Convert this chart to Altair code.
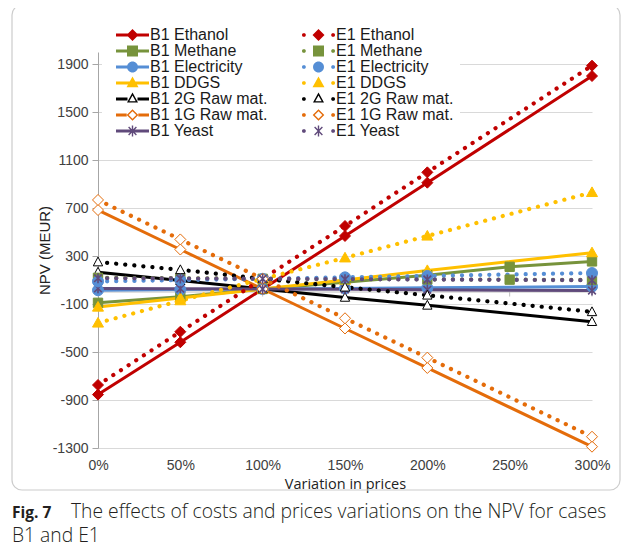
import math
import altair as alt
import pandas as pd

# ---------------- data ----------------
X_MAIN = [0, 50, 100, 150, 200, 300]
X_METHANE = [0, 50, 100, 150, 200, 250, 300]
X_TICKS = [0, 50, 100, 150, 200, 250, 300]
Y_TICKS = [-1300, -900, -500, -100, 300, 700, 1100, 1500, 1900]

B1_ETHANOL = [-855, -419, 25, 467, 911, 1800]
B1_METHANE = [-90, -40, 25, 82, 140, 210, 255]
B1_ELECTRICITY = [15, 20, 25, 30, 35, 45]
B1_DDGS = [-125, -50, 25, 100, 180, 328]
B1_RAW2G = [165, 95, 25, -45, -111, -247]
B1_RAW1G = [683, 354, 25, -304, -633, -1289]
B1_YEAST = [30, 28, 25, 22, 18, 12]

E1_ETHANOL = [-775, -331, 110, 550, 997, 1886]
E1_METHANE = [118, 115, 110, 108, 105, 103, 100]
E1_ELECTRICITY = [88, 99, 110, 122, 134, 158]
E1_DDGS = [-258, -72, 110, 285, 467, 830]
E1_RAW2G = [250, 185, 110, 40, -27, -165]
E1_RAW1G = [767, 438, 110, -219, -547, -1206]
E1_YEAST = [115, 113, 110, 107, 104, 98]

SERIES = ["B1 Ethanol", "B1 Methane", "B1 Electricity", "B1 DDGS",
          "B1 2G Raw mat.", "B1 1G Raw mat.", "B1 Yeast",
          "E1 Ethanol", "E1 Methane", "E1 Electricity", "E1 DDGS",
          "E1 2G Raw mat.", "E1 1G Raw mat.", "E1 Yeast"]
PRODUCTS = ["ethanol", "methane", "electricity", "ddgs", "raw2g", "raw1g", "yeast"]
VALUES = [B1_ETHANOL, B1_METHANE, B1_ELECTRICITY, B1_DDGS, B1_RAW2G, B1_RAW1G, B1_YEAST,
          E1_ETHANOL, E1_METHANE, E1_ELECTRICITY, E1_DDGS, E1_RAW2G, E1_RAW1G, E1_YEAST]

CAPTION_BOLD = "Fig. 7"
CAPTION_LINE1 = "The effects of costs and prices variations on the NPV for cases"
CAPTION_LINE2 = "B1 and E1"

# ---------------- styles ----------------
COLORS = {"ethanol": "#C00000", "methane": "#77933C", "electricity": "#558ED5",
          "ddgs": "#FFC000", "raw2g": "#000000", "raw1g": "#E46C0A", "yeast": "#604A7B"}
MARK_PATH = {
    "ethanol": "M0,-1L1,0L0,1L-1,0Z",
    "methane": "M-0.85,-0.85L0.85,-0.85L0.85,0.85L-0.85,0.85Z",
    "electricity": "circle",
    "ddgs": "M0,-1L1,0.75L-1,0.75Z",
    "raw2g": "M0,-0.9L0.85,0.7L-0.85,0.7Z",
    "raw1g": "M0,-1L1,0L0,1L-1,0Z",
    "yeast": "M0,-0.9L0,0.9M-0.7,-0.7L0.7,0.7M-0.7,0.7L0.7,-0.7",
}
OPEN = {"raw2g", "raw1g"}

rows = []
for name, vals in zip(SERIES, VALUES):
    case = name[:2]
    prod = PRODUCTS[SERIES.index(name) % 7]
    xs = X_METHANE if prod == "methane" else X_MAIN
    col = COLORS[prod]
    if prod in OPEN:
        fill = "white"
    elif prod == "yeast":
        fill = "transparent"
    else:
        fill = col
    for x, y in zip(xs, vals):
        rows.append(dict(series=name, case=case, x=x, y=y, color=col, fill=fill,
                         stroke=col, shape=MARK_PATH[prod],
                         sw=1.6 if prod == "yeast" else 1.0))
df = pd.DataFrame(rows)


# ---------------- legend symbols (px units) ----------------
def ppath(pts):
    return "M" + "L".join(f"{x:.2f},{y:.2f}" for x, y in pts) + "Z"


def circ(cx, cy, r, n=18):
    return [(cx + r * math.cos(2 * math.pi * k / n), cy + r * math.sin(2 * math.pi * k / n)) for k in range(n)]


def dia(cx, cy, r):
    return [(cx, cy - r), (cx + r, cy), (cx, cy + r), (cx - r, cy)]


def sq(cx, cy, r):
    return [(cx - r, cy - r), (cx + r, cy - r), (cx + r, cy + r), (cx - r, cy + r)]


def tri(cx, cy, r):
    return [(cx, cy - r), (cx + r, cy + 0.8 * r), (cx - r, cy + 0.8 * r)]


def bar(cx, cy, L, w, ang):
    d = (math.cos(ang), math.sin(ang))
    n = (-math.sin(ang), math.cos(ang))
    h, k = L / 2, w / 2
    return [(cx - d[0] * h - n[0] * k, cy - d[1] * h - n[1] * k),
            (cx + d[0] * h - n[0] * k, cy + d[1] * h - n[1] * k),
            (cx + d[0] * h + n[0] * k, cy + d[1] * h + n[1] * k),
            (cx - d[0] * h + n[0] * k, cy - d[1] * h + n[1] * k)]


def rect(x0, y0, x1, y1):
    return [(x0, y0), (x1, y0), (x1, y1), (x0, y1)]


W = 33.0
C = W / 2


def legend_symbol(prod, dotted):
    parts = []
    gap = 0
    if prod == "ethanol":
        mk = ppath(dia(C, 0, 6))
    elif prod == "methane":
        mk = ppath(sq(C, 0, 5.5))
    elif prod == "electricity":
        mk = ppath(circ(C, 0, 5.5))
    elif prod == "ddgs":
        mk = ppath(tri(C, -0.5, 6))
    elif prod == "raw2g":
        mk = ppath(tri(C, -1, 5.5)) + ppath(list(reversed(tri(C, -0.2, 3.2))))
        gap = 5
    elif prod == "raw1g":
        mk = ppath(dia(C, 0, 5.8)) + ppath(list(reversed(dia(C, 0, 3.8))))
        gap = 5.8
    else:
        mk = "".join(ppath(bar(C, 0, 11, 1.4, a)) for a in (math.pi / 2, math.pi / 4, 3 * math.pi / 4))
    if dotted:
        parts.append(ppath(circ(1.9, 0, 1.9)))
        parts.append(ppath(circ(W - 1.9, 0, 1.9)))
    else:
        if gap:
            parts.append(ppath(rect(0, -1.5, C - gap, 1.5)))
            parts.append(ppath(rect(C + gap, -1.5, W, 1.5)))
        else:
            parts.append(ppath(rect(0, -1.5, W, 1.5)))
    parts.append(mk)
    return "".join(parts)


LEG_PATHS = [legend_symbol(PRODUCTS[i % 7], i >= 7) for i in range(len(SERIES))]
LEG_COLORS = [COLORS[PRODUCTS[i % 7]] for i in range(len(SERIES))]

# ---------------- encodings ----------------
LABEL_FONT = "Liberation Sans"
x_enc = alt.X("x:Q", scale=alt.Scale(domain=[0, 300], nice=False, zero=False),
              axis=alt.Axis(values=X_TICKS, labelExpr="datum.value + '%'", grid=False,
                            domain=False, ticks=False, tickSize=0, labelPadding=10,
                            labelFlush=False,
                            labelFont=LABEL_FONT, labelFontSize=14, labelColor="#404040",
                            title="Variation in prices", titleFont="Open Sans",
                            titleFontSize=14.5, titleFontWeight="normal", titleColor="#222222",
                            titleY=29))
y_enc = alt.Y("y:Q", scale=alt.Scale(domain=[-1300, 2000], nice=False, zero=False),
              axis=alt.Axis(values=Y_TICKS, labelExpr="'' + datum.value", grid=True,
                            gridColor="#d9d9d9", gridWidth=1, domainColor="#a6a6a6",
                            tickColor="#a6a6a6", tickSize=6, labelPadding=4,
                            labelFlush=False,
                            labelFont=LABEL_FONT, labelFontSize=14, labelColor="#404040",
                            title="NPV (MEUR)", titleFont=LABEL_FONT, titleFontSize=15,
                            titleFontWeight="normal", titleColor="#222222",
                            titleX=-46))

base = alt.Chart(df)

solid = base.transform_filter(alt.datum.case == "B1").mark_line(strokeWidth=3).encode(
    x=x_enc, y=y_enc, color=alt.Color("color:N", scale=None), detail="series:N", order="x:Q")
dotted = base.transform_filter(alt.datum.case == "E1").mark_line(
    strokeWidth=4.2, strokeDash=[0.1, 9], strokeCap="round").encode(
    x=x_enc, y=y_enc, color=alt.Color("color:N", scale=None), detail="series:N", order="x:Q")


def points(case):
    return base.transform_filter(alt.datum.case == case).mark_point(opacity=1, size=121).encode(
        x=x_enc, y=y_enc,
        shape=alt.Shape("shape:N", scale=None),
        fill=alt.Fill("fill:N", scale=None),
        stroke=alt.Stroke("stroke:N", scale=None),
        strokeWidth=alt.StrokeWidth("sw:Q", scale=None))


LEG = alt.Legend(title=None, orient="none", legendX=4, legendY=-31, columns=2,
                 columnPadding=26, rowPadding=0, labelFont=LABEL_FONT, labelFontSize=16,
                 labelColor="#1a1a1a", symbolSize=4, symbolStrokeWidth=0, symbolOffset=0,
                 labelOffset=26, fillColor="white", padding=6, labelLimit=0,
                 symbolOpacity=1)
legend_layer = base.transform_filter("datum.x < -1000").mark_point(
    filled=True, opacity=1, size=4).encode(
    x=x_enc, y=y_enc,
    color=alt.Color("series:N", scale=alt.Scale(domain=SERIES, range=LEG_COLORS), legend=LEG),
    shape=alt.Shape("series:N", scale=alt.Scale(domain=SERIES, range=LEG_PATHS), legend=LEG))

zero_line = alt.Chart(pd.DataFrame({"x": [0], "x2": [300], "y": [0]})).mark_rule(
    color="#bfbfbf", strokeWidth=1).encode(x=x_enc, x2="x2:Q", y=y_enc)
zero_ticks = alt.Chart(pd.DataFrame({"x": X_TICKS, "y": [0] * len(X_TICKS),
                                     "y2": [-38] * len(X_TICKS)})).mark_rule(
    color="#bfbfbf", strokeWidth=1).encode(x=x_enc, y=y_enc, y2="y2:Q")

one = pd.DataFrame({"a": [1]})
frame = alt.Chart(one).mark_rect(fillOpacity=0, stroke="#cccccc", strokeWidth=1.2,
                                 cornerRadius=10).encode(
    x=alt.value(-86), x2=alt.value(522), y=alt.value(-47), y2=alt.value(438))
cap_bold = alt.Chart(one).mark_text(align="left", baseline="alphabetic", font="Open Sans",
                                    fontSize=15.5, fontWeight="bold", color="#231f20").encode(
    x=alt.value(-86), y=alt.value(466), text=alt.value(CAPTION_BOLD))
cap_1 = alt.Chart(one).mark_text(align="left", baseline="alphabetic", font="Open Sans",
                                 fontSize=19.3, fontWeight=300, color="#231f20").encode(
    x=alt.value(-27), y=alt.value(466), text=alt.value(CAPTION_LINE1))
cap_2 = alt.Chart(one).mark_text(align="left", baseline="alphabetic", font="Open Sans",
                                 fontSize=19.3, fontWeight=300, color="#231f20").encode(
    x=alt.value(-86), y=alt.value(490), text=alt.value(CAPTION_LINE2))

chart = alt.layer(
    frame, zero_line, zero_ticks, solid, dotted, points("B1"), points("E1"),
    legend_layer, cap_bold, cap_1, cap_2
).resolve_scale(color="independent", shape="independent").properties(
    width=494, height=396,
    padding={"left": 90, "top": 44, "right": 29, "bottom": 100},
    autosize=alt.AutoSizeParams(type="none"),
    background="white",
).configure_view(stroke=None)

chart.save("out.html", embed_options={"renderer": "svg", "actions": False})
